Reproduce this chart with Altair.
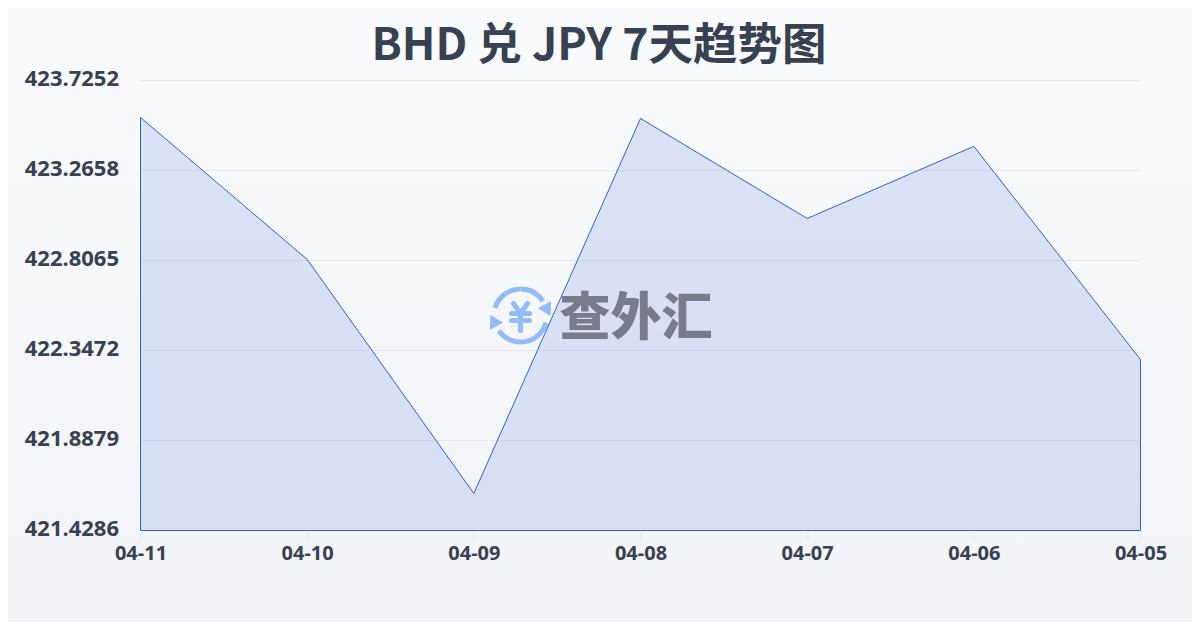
import altair as alt
import pandas as pd

TITLE = "BHD 兑 JPY 7天趋势图"
DATES = ["04-11", "04-10", "04-09", "04-08", "04-07", "04-06", "04-05"]
RATES = [423.5365, 422.812, 421.6175, 423.5314, 423.021, 423.389, 422.301]
Y_TICKS = [421.4286, 421.8879, 422.3472, 422.8065, 423.2658, 423.7252]
FONT = "Noto Sans CJK SC"
AXFONT = "Noto Sans"
INK = "#374151"
ICON = "#93bbf8"

data = pd.DataFrame({"date": DATES, "rate": RATES, "floor": [Y_TICKS[0]] * len(DATES)})
grid = pd.DataFrame({"rate": Y_TICKS[1:]})
one = pd.DataFrame({"a": [0]})
yscale = alt.Scale(domain=[Y_TICKS[0], Y_TICKS[-1]], nice=False, zero=False)

x = alt.X("date:N", sort=DATES, title=None,
          scale=alt.Scale(type="point", padding=0),
          axis=alt.Axis(labelAngle=0, labelFont=AXFONT, labelFontSize=20, labelFontWeight="bold",
                        labelColor=INK, labelPadding=3, tickColor="#e5e7eb", tickSize=10,
                        domain=False, grid=False, zindex=1))
y = alt.Y("rate:Q", title=None, scale=yscale,
          axis=alt.Axis(values=Y_TICKS, format=".4f", labelFont=AXFONT, labelFontSize=22,
                        labelFontWeight="bold", labelColor=INK, labelPadding=22, ticks=False,
                        domain=False, grid=False, labelOffset=-2, zindex=1))

bg = alt.Chart(one).mark_rect(
    fill=alt.Gradient(gradient="linear", x1=0, y1=0, x2=0, y2=1,
                      stops=[alt.GradientStop(color="#f9fafc", offset=0),
                             alt.GradientStop(color="#f3f4f7", offset=1)])
).encode(x=alt.value(-133), x2=alt.value(1052), y=alt.value(-73), y2=alt.value(542))

rules = alt.Chart(grid).mark_rule(color="#e5e7eb", strokeWidth=1).encode(
    y=y, x=alt.value(0), x2=alt.value(1000))

area = alt.Chart(data).mark_area(
    fill="#2c62d8", fillOpacity=0.15, stroke="#2d62c6", strokeWidth=1
).encode(x=x, y=y, y2="floor:Q")

title = alt.Chart(one).mark_text(text=TITLE, font=FONT, fontSize=44.5, fontWeight="bold", color=INK,
                                 align="center", baseline="middle").encode(x=alt.value(458.5), y=alt.value(-34))

word = alt.Chart(one).mark_text(text="查外汇", font=FONT, fontSize=51, fontWeight=900, color="#6b7280",
                                opacity=0.9, align="left", baseline="middle").encode(x=alt.value(419), y=alt.value(239))
CX, CY = 380, 235
base = alt.Chart(one)
def ic(m):
    return m.encode(x=alt.value(CX), y=alt.value(CY))
def seg(x1, y1, x2, y2):
    return base.mark_rule(color=ICON, strokeWidth=5, strokeCap="round").encode(
        x=alt.value(x1), y=alt.value(y1), x2=alt.value(x2), y2=alt.value(y2))
yen = [seg(373, 223, 380, 233), seg(387, 223, 380, 233), seg(371, 233, 389, 233),
       seg(371, 240, 389, 240), seg(380, 233, 380, 250)]
arcs = [
    ic(base.mark_arc(theta=5.0, theta2=6.283, innerRadius=24, outerRadius=29, color=ICON)),
    ic(base.mark_arc(theta=0, theta2=1.0, innerRadius=24, outerRadius=29, color=ICON)),
    ic(base.mark_arc(theta=1.85, theta2=4.1, innerRadius=24, outerRadius=29, color=ICON)),
]
arrow1 = base.mark_point(shape="triangle", filled=True, size=225, angle=152, color=ICON, opacity=1).encode(x=alt.value(406), y=alt.value(228))
arrow2 = base.mark_point(shape="triangle", filled=True, size=225, angle=332, color=ICON, opacity=1).encode(x=alt.value(354), y=alt.value(242))

chart = alt.layer(bg, rules, *arcs, arrow1, arrow2, *yen, area, word, title).properties(
    width=1000, height=450,
    padding={"left": 132.5, "top": 72.5, "right": 51.5, "bottom": 91.5},
    autosize=alt.AutoSizeParams(type="none"),
).configure_view(stroke=None)

chart.save("out.html", embed_options={"renderer": "svg", "actions": False})
